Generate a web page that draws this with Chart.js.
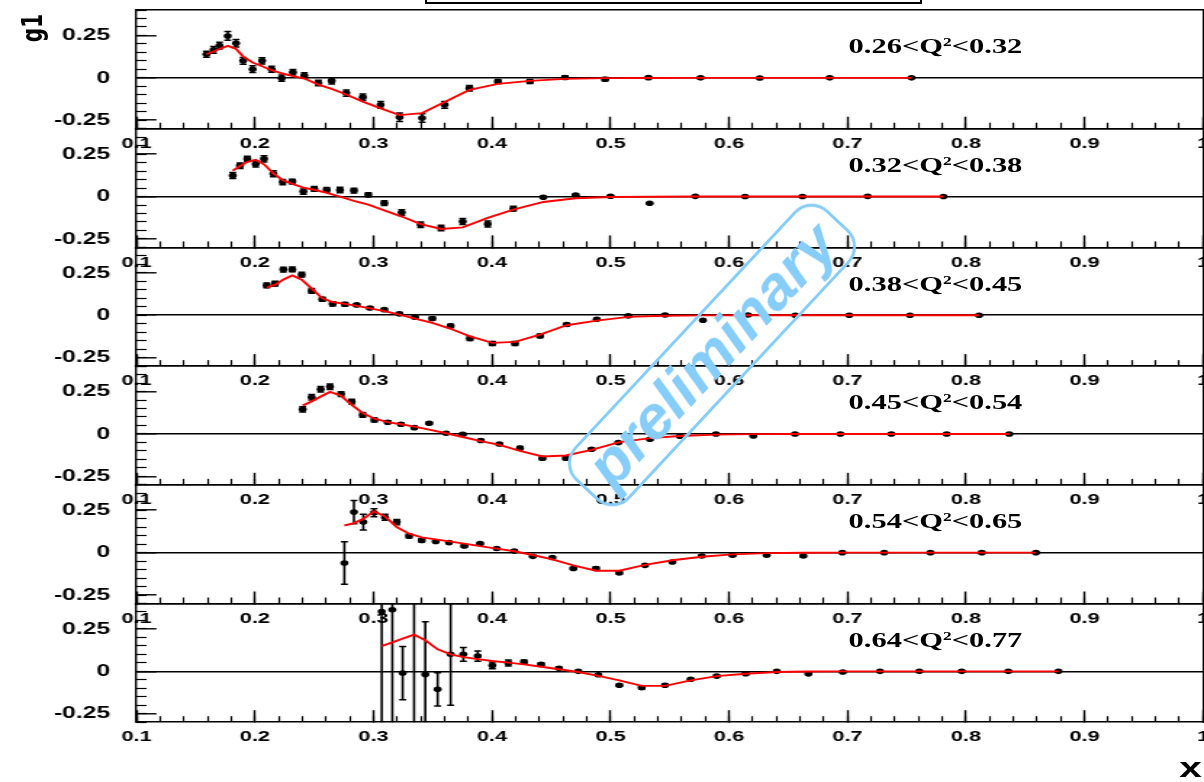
<!DOCTYPE html>
<html>
<head>
<meta charset="utf-8">
<title>g1 vs x in Q2 bins</title>
<script src="https://cdn.jsdelivr.net/npm/chart.js@4.4.1/dist/chart.umd.min.js"></script>
<style>
  html, body { margin: 0; padding: 0; background: #fff; }
  #page { position: relative; width: 1204px; height: 782px; overflow: hidden; background: #fff; }
  /* the original picture is stretched sideways, so the whole plot is drawn narrow and widened */
  #wide { position: absolute; left: 0; top: 0; width: 830px; height: 782px; transform: scaleX(1.4506); transform-origin: 0 0; }
  #wide canvas { position: absolute; left: 0; }
  .q2 { position: absolute; left: 585px; font: bold 21px 'Liberation Serif', serif; line-height: 22px; white-space: nowrap; color: #000; }
  .q2 sup { font-size: 12px; line-height: 0; vertical-align: 7px; }
  #ylab { position: absolute; left: 6.4px; top: 17px; width: 30px; height: 22px; line-height: 22px; text-align: center;
          font: bold 20px 'DejaVu Sans', sans-serif; transform: rotate(-90deg); color: #000; }
  #xlab { position: absolute; left: 813px; top: 754px; font: bold 28px 'Liberation Sans', sans-serif; line-height: 28px; color: #000; }
  #titlebox { position: absolute; left: 425px; top: -20px; width: 497px; height: 24px; border: 2px solid #000; box-sizing: border-box; }
  #stamp { position: absolute; left: 527px; top: 317px; width: 370px; height: 76px; box-sizing: border-box;
           border: 3px solid #86cdf9; border-radius: 24px; transform: rotate(-47deg);
           color: #86cdf9; font: italic bold 62px 'Liberation Sans', sans-serif; line-height: 68px; text-align: center; }
</style>
</head>
<body>
<div id="page">
  <div id="wide">
    <div id="ylab">g1</div>
    <div id="xlab">x</div>
  </div>
  <div id="titlebox"></div>
  <div id="stamp">preliminary</div>
</div>
<script>
// tick labels
const xMajorTicks = [0.1, 0.2, 0.3, 0.4, 0.5, 0.6, 0.7, 0.8, 0.9, 1];
const yMajorTicks = [-0.25, 0, 0.25];

// Q2 bins, one per panel
const q2Low  = [0.26, 0.32, 0.38, 0.45, 0.54, 0.64];
const q2High = [0.32, 0.38, 0.45, 0.54, 0.65, 0.77];

// panel 1: 0.26<Q2<0.32
const xP1 = [0.159,0.165,0.170,0.177,0.184,0.190,0.198,0.206,0.214,0.2225,0.232,0.2416,0.2535,0.2647,0.277,0.291,0.306,0.322,0.341,0.36,0.381,0.405,0.432,0.4616,0.4954,0.532,0.576,0.626,0.685,0.754];
const gP1 = [0.139,0.165,0.19,0.247,0.204,0.10,0.051,0.10,0.051,-0.002,0.033,0.014,-0.031,-0.018,-0.09,-0.114,-0.159,-0.233,-0.237,-0.159,-0.061,-0.022,-0.022,0.002,-0.008,0.001,0,-0.001,0,0];
const eP1 = [0.018,0.02,0.02,0.026,0.022,0.02,0.02,0.018,0.018,0.018,0.016,0.016,0.016,0.018,0.018,0.018,0.02,0.025,0.025,0.02,0.016,0.012,0.012,0.01,0.01,0.005,0.004,0.003,0.003,0.003];
const fitP1 = [0.139,0.155,0.17,0.188,0.17,0.125,0.09,0.068,0.045,0.027,0.01,-0.004,-0.04,-0.065,-0.098,-0.14,-0.18,-0.22,-0.208,-0.143,-0.071,-0.036,-0.018,-0.006,-0.002,-0.001,0,0,0,0];

// panel 2: 0.32<Q2<0.38
const xP2 = [0.1812,0.1873,0.1935,0.2006,0.2076,0.2155,0.2234,0.2315,0.2408,0.250,0.2605,0.2717,0.2835,0.2956,0.3091,0.3238,0.3398,0.357,0.3753,0.3964,0.418,0.4433,0.4706,0.5,0.533,0.5716,0.6135,0.662,0.717,0.781];
const gP2 = [0.124,0.182,0.222,0.192,0.222,0.134,0.085,0.088,0.029,0.045,0.039,0.038,0.035,0.010,-0.039,-0.094,-0.166,-0.186,-0.147,-0.162,-0.072,-0.004,0.008,0.002,-0.04,0.001,0,0,0.001,0];
const eP2 = [0.018,0.016,0.016,0.018,0.018,0.018,0.016,0.014,0.016,0.014,0.014,0.016,0.014,0.012,0.014,0.016,0.016,0.016,0.018,0.018,0.014,0.006,0.005,0.004,0.004,0.003,0.003,0.003,0.003,0.003];
const fitP2 = [0.153,0.18,0.205,0.216,0.19,0.137,0.096,0.075,0.053,0.04,0.022,0.0,-0.025,-0.048,-0.082,-0.118,-0.163,-0.191,-0.182,-0.126,-0.077,-0.032,-0.01,-0.003,-0.001,0,0,0,0,0];

// panel 3: 0.38<Q2<0.45
const xP3 = [0.2099,0.2169,0.2239,0.2315,0.2394,0.2478,0.2568,0.2655,0.2759,0.2858,0.297,0.3091,0.3218,0.335,0.3496,0.3651,0.3814,0.4003,0.4194,0.4405,0.463,0.4884,0.515,0.546,0.578,0.616,0.656,0.7015,0.7527,0.811];
const gP3 = [0.176,0.186,0.269,0.27,0.239,0.143,0.094,0.067,0.065,0.061,0.043,0.033,0.008,-0.012,-0.02,-0.063,-0.137,-0.167,-0.167,-0.122,-0.055,-0.024,-0.004,0.001,-0.03,0.001,0,0,0,0];
const eP3 = [0.014,0.014,0.014,0.014,0.014,0.014,0.012,0.012,0.01,0.006,0.006,0.006,0.008,0.008,0.01,0.01,0.012,0.012,0.012,0.01,0.008,0.004,0.004,0.003,0.003,0.003,0.003,0.003,0.003,0.003];
const fitP3 = [0.163,0.18,0.21,0.235,0.21,0.157,0.1,0.078,0.067,0.055,0.04,0.024,0.004,-0.02,-0.045,-0.08,-0.125,-0.163,-0.157,-0.114,-0.059,-0.032,-0.01,-0.003,-0.001,0,0,0,0,0];

// panel 4: 0.45<Q2<0.54
const xP4 = [0.2402,0.2478,0.2554,0.2633,0.2726,0.2816,0.2909,0.3007,0.312,0.3232,0.3344,0.347,0.3612,0.3753,0.3905,0.4062,0.4236,0.4425,0.4624,0.4841,0.5066,0.5333,0.5586,0.589,0.6205,0.6557,0.694,0.737,0.7837,0.8365];
const gP4 = [0.145,0.216,0.263,0.278,0.235,0.19,0.112,0.082,0.069,0.057,0.037,0.063,0.004,-0.002,-0.039,-0.059,-0.084,-0.143,-0.143,-0.09,-0.051,-0.031,-0.014,0,-0.012,0,0,0,0,0];
const eP4 = [0.016,0.016,0.016,0.016,0.014,0.014,0.014,0.012,0.008,0.008,0.008,0.006,0.006,0.006,0.006,0.006,0.01,0.01,0.01,0.006,0.005,0.004,0.004,0.003,0.003,0.003,0.003,0.003,0.003,0.003];
const fitP4 = [0.167,0.192,0.22,0.248,0.225,0.172,0.123,0.09,0.07,0.057,0.043,0.025,0.004,-0.018,-0.042,-0.065,-0.1,-0.133,-0.127,-0.094,-0.05,-0.025,-0.012,-0.004,-0.001,0,0,0,0,0];

// panel 5: 0.54<Q2<0.65
const xP5 = [0.2754,0.2835,0.2914,0.3004,0.3097,0.3196,0.33,0.3407,0.3525,0.3637,0.3766,0.3899,0.404,0.4188,0.4344,0.4509,0.4686,0.4878,0.5074,0.5291,0.5522,0.577,0.603,0.6318,0.6627,0.6956,0.731,0.770,0.8133,0.859];
const gP5 = [-0.061,0.239,0.18,0.235,0.209,0.18,0.098,0.072,0.066,0.059,0.039,0.053,0.024,0.009,-0.022,-0.029,-0.094,-0.094,-0.12,-0.075,-0.055,-0.02,-0.015,-0.015,-0.02,0,0,0,0,0];
const eP5 = [0.125,0.069,0.046,0.024,0.018,0.015,0.012,0.01,0.006,0.006,0.006,0.005,0.005,0.005,0.005,0.005,0.006,0.01,0.006,0.005,0.005,0.004,0.004,0.004,0.004,0.003,0.003,0.003,0.003,0.003];
const fitP5 = [0.16,0.174,0.2,0.243,0.214,0.151,0.112,0.09,0.078,0.066,0.053,0.038,0.024,0.008,-0.014,-0.04,-0.075,-0.107,-0.107,-0.072,-0.045,-0.024,-0.01,-0.003,-0.001,0,0,0,0,0];

// panel 6: 0.64<Q2<0.77
const xP6 = [0.3069,0.3159,0.3246,0.3342,0.3437,0.3541,0.3651,0.3758,0.3879,0.4003,0.4138,0.427,0.4414,0.4565,0.4728,0.4897,0.5074,0.5263,0.546,0.5677,0.5896,0.6141,0.6403,0.667,0.696,0.7274,0.7606,0.7964,0.8357,0.878];
const gP6 = [0.353,0.363,-0.01,-0.35,-0.018,-0.106,0.1,0.1,0.09,0.035,0.049,0.055,0.041,0.018,0,-0.02,-0.082,-0.096,-0.082,-0.047,-0.028,-0.014,0,-0.015,-0.004,0,0,0,0,0];
const eP6 = [0.7,0.7,0.157,0.8,0.31,0.098,0.3,0.041,0.03,0.02,0.018,0.012,0.008,0.006,0.005,0.006,0.006,0.01,0.006,0.005,0.005,0.005,0.004,0.004,0.003,0.003,0.003,0.003,0.003,0.003];
const fitP6 = [0.149,0.171,0.193,0.216,0.183,0.13,0.1,0.084,0.072,0.061,0.051,0.041,0.027,0.012,-0.004,-0.027,-0.053,-0.086,-0.086,-0.053,-0.028,-0.014,-0.004,-0.001,0,0,0,0,0,0];

const panels = [
  [xP1, gP1, eP1, fitP1], [xP2, gP2, eP2, fitP2], [xP3, gP3, eP3, fitP3],
  [xP4, gP4, eP4, fitP4], [xP5, gP5, eP5, fitP5], [xP6, gP6, eP6, fitP6]
];

const STRETCH = 1204 / 830;
const PANEL_H = 118.7;     // height of one pad's frame
const FIRST_TOP = 10;
const CANVAS_H = 172;
const AXIS_LEFT = 136.5 / STRETCH;
const wide = document.getElementById('wide');

const fontX = {family: 'Liberation Sans', weight: 'bold', size: 15};
const fontY = {family: 'Liberation Sans', weight: 'bold', size: 17};

// no automatic label padding: the frame must sit exactly where the pad is
function noPad(s) { s.paddingTop = 0; s.paddingBottom = 0; s.paddingLeft = 0; s.paddingRight = 0; }

function drawPanel(i, xs, gs, es, fs) {
  const top = FIRST_TOP + PANEL_H * i;
  const ctop = Math.floor(top) - 8;
  const padTop = top - ctop;

  const cv = document.createElement('canvas');
  cv.width = 830; cv.height = CANVAS_H;
  cv.style.top = ctop + 'px';
  cv.style.width = '830px'; cv.style.height = CANVAS_H + 'px';
  wide.appendChild(cv);

  const pts = xs.map((x, k) => ({x: x, y: gs[k]}));
  const bars = [];
  xs.forEach((x, k) => { bars.push({x: x, y: gs[k] - es[k]}, {x: x, y: gs[k] + es[k]}, {x: x, y: null}); });
  const capsLo = xs.map((x, k) => ({x: x, y: gs[k] - es[k]}));
  const capsHi = xs.map((x, k) => ({x: x, y: gs[k] + es[k]}));
  const curve = xs.map((x, k) => ({x: x, y: fs[k]}));

  new Chart(cv, {
    type: 'scatter',
    data: {
      datasets: [
        {type: 'line', data: curve, borderColor: '#ff0000', borderWidth: 1.9, pointRadius: 0, tension: 0, fill: false, order: 0},
        {data: pts, backgroundColor: '#000', pointBackgroundColor: '#000', pointBorderWidth: 0, pointRadius: 2.8, order: 1},
        {type: 'line', data: bars, borderColor: '#000', borderWidth: 1.6, pointRadius: 0, spanGaps: false, fill: false, order: 2},
        {data: capsLo, pointStyle: 'line', pointRadius: 2.4, pointBorderColor: '#000', pointBorderWidth: 1.5, order: 2},
        {data: capsHi, pointStyle: 'line', pointRadius: 2.4, pointBorderColor: '#000', pointBorderWidth: 1.5, order: 2}
      ]
    },
    options: {
      responsive: false,
      animation: false,
      events: [],
      layout: {autoPadding: false, padding: {top: padTop, right: 830 - 1203 / STRETCH, bottom: 0, left: 0}},
      plugins: {legend: {display: false}, tooltip: {enabled: false}},
      scales: {
        x: {
          type: 'linear', position: 'bottom', weight: 1, min: 0.1, max: 1,
          afterBuildTicks: s => { s.ticks = xMajorTicks.map(v => ({value: v})); },
          afterFit: s => { s.height = CANVAS_H - padTop - PANEL_H; noPad(s); },
          ticks: {autoSkip: false, maxRotation: 0, padding: 18, color: '#000', font: fontX, callback: v => String(v)},
          grid: {drawOnChartArea: false, tickLength: -12, tickColor: '#000', tickWidth: 1.4},
          border: {display: true, color: '#000', width: 1.6}
        },
        xm: {
          type: 'linear', position: 'bottom', weight: 0, min: 0.1, max: 1,
          afterFit: s => { s.height = 0; noPad(s); },
          ticks: {display: false, stepSize: 0.02, autoSkip: false},
          grid: {drawOnChartArea: false, tickLength: -6, tickColor: '#000', tickWidth: 1.2},
          border: {display: false}
        },
        xt: {
          type: 'linear', position: 'top', min: 0.1, max: 1,
          afterFit: s => { s.height = 0; noPad(s); },
          ticks: {display: false},
          grid: {drawOnChartArea: false, drawTicks: false},
          border: {display: true, color: '#000', width: 1.6}
        },
        y: {
          type: 'linear', position: 'left', weight: 1, min: -0.3, max: 0.4,
          afterBuildTicks: s => { s.ticks = yMajorTicks.map(v => ({value: v})); },
          afterFit: s => { s.width = AXIS_LEFT; noPad(s); },
          ticks: {padding: 32, color: '#000', font: fontY, callback: v => String(v)},
          grid: {
            drawOnChartArea: true,
            color: c => (c.tick && c.tick.value === 0) ? '#000' : 'rgba(0,0,0,0)',
            lineWidth: 1.6, tickLength: -13.8, tickColor: '#000', tickWidth: 1.4
          },
          border: {display: true, color: '#000', width: 1.4}
        },
        ym: {
          type: 'linear', position: 'left', weight: 0, min: -0.3, max: 0.4,
          afterFit: s => { s.width = 0; noPad(s); },
          ticks: {display: false, stepSize: 0.05},
          grid: {drawOnChartArea: false, tickLength: -6.9, tickColor: '#000', tickWidth: 1.2},
          border: {display: false}
        },
        yr: {
          type: 'linear', position: 'right', min: -0.3, max: 0.4,
          afterFit: s => { s.width = 0; noPad(s); },
          ticks: {display: false},
          grid: {drawOnChartArea: false, drawTicks: false},
          border: {display: true, color: '#000', width: 1.4}
        }
      }
    }
  });

  // Q2 bin label
  const lab = document.createElement('div');
  lab.className = 'q2';
  lab.style.top = (35.2 + PANEL_H * i) + 'px';
  lab.innerHTML = q2Low[i].toFixed(2) + '&lt;Q<sup>2</sup>&lt;' + q2High[i].toFixed(2);
  wide.appendChild(lab);
}

panels.forEach((p, i) => drawPanel(i, p[0], p[1], p[2], p[3]));
</script>
</body>
</html>
